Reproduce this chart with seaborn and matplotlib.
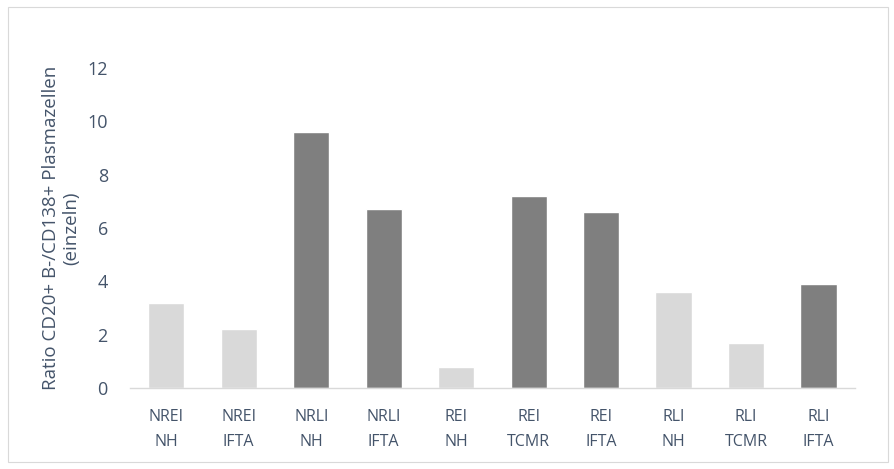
import matplotlib
matplotlib.use("Agg")
import matplotlib.pyplot as plt
import seaborn as sns
import pandas as pd
from matplotlib.patches import Rectangle

categories = ["NREI\nNH", "NREI\nIFTA", "NRLI\nNH", "NRLI\nIFTA", "REI\nNH",
              "REI\nTCMR", "REI\nIFTA", "RLI\nNH", "RLI\nTCMR", "RLI\nIFTA"]
values = [3.2, 2.2, 9.6, 6.7, 0.8, 7.2, 6.6, 3.6, 1.7, 3.9]
bar_colors = ["#d9d9d9", "#d9d9d9", "#7f7f7f", "#7f7f7f", "#d9d9d9",
              "#7f7f7f", "#7f7f7f", "#d9d9d9", "#d9d9d9", "#7f7f7f"]
y_ticks = [0, 2, 4, 6, 8, 10, 12]

sns.set_style("white")
plt.rcParams["font.family"] = ["Open Sans", "DejaVu Sans"]
text_color = "#44546a"

df = pd.DataFrame({"cat": categories, "val": values})

fig = plt.figure(figsize=(8.95, 4.69), dpi=100)
ax = fig.add_axes([0.1453, 0.1727, 0.8097, 0.6823])
sns.barplot(data=df, x="cat", y="val", hue="cat", palette=bar_colors,
            legend=False, width=0.5, ax=ax, saturation=1)

ax.set_ylim(0, 12)
ax.set_yticks(y_ticks)
ax.set_xlim(-0.5, len(categories) - 0.5)
ax.set_xlabel("")
ax.set_ylabel("Ratio CD20+ B-/CD138+ Plasmazellen\n(einzeln)", color=text_color,
              fontsize=13.5, labelpad=5, linespacing=1.2)
ax.tick_params(axis="both", length=0, colors=text_color)
ax.tick_params(axis="y", labelsize=13, pad=16)
ax.tick_params(axis="x", labelsize=11.5, pad=15)
for lbl in ax.get_xticklabels():
    lbl.set_linespacing(1.75)

for side in ["top", "right", "left"]:
    ax.spines[side].set_visible(False)
ax.spines["bottom"].set_color("#d9d9d9")
ax.spines["bottom"].set_linewidth(1)

# thin frame around the chart area
fig.patches.append(Rectangle((8 / 895, 7 / 469), 880 / 895, 455 / 469,
                             transform=fig.transFigure, fill=False,
                             edgecolor="#d9d9d9", linewidth=0.8))

fig.savefig("out.png", dpi=100, facecolor="white")
